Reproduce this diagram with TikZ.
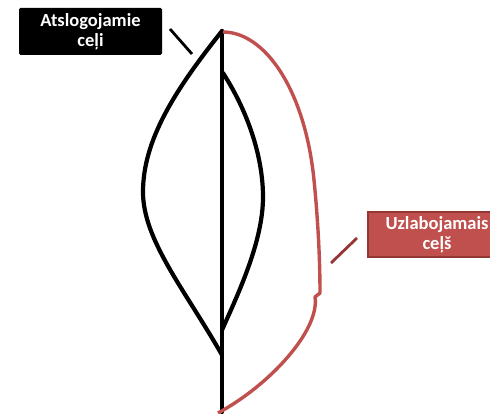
\documentclass[tikz,border=0pt]{standalone}
\usepackage{fontspec}
\setmainfont{Carlito}
\definecolor{accred}{HTML}{C0504D}
\definecolor{darkred}{HTML}{943634}
\begin{document}
\begin{tikzpicture}[x=1pt,y=-1pt,
  blackline/.style={line width=4.2pt, line join=round, line cap=round},
  labelbox/.style={font=\bfseries\fontsize{18.5}{20}\selectfont, text=white, align=center, inner sep=0pt},
  leader/.style={line width=2.8pt}]
\useasboundingbox (0,0) rectangle (490,414);
\clip (0,0) rectangle (490,414);
% main stem
\coordinate (top) at (222,31);
\coordinate (bot) at (222,412);
\coordinate (lm) at (143,192);
\coordinate (lj) at (222,355);
\coordinate (rt) at (223,73);
\coordinate (rm) at (263,197);
\coordinate (rj) at (222,330);
\draw[blackline] (top) -- (bot);
% left lens
\draw[blackline] (top) .. controls (175,90) and (143,140) .. (lm)
  .. controls (143,240) and (185,290) .. (lj);
% right inner lens
\draw[blackline] (rt) .. controls (250,115) and (263,160) .. (rm)
  .. controls (263,240) and (240,290) .. (rj);
% red path
\coordinate (r0) at (223,32);
\coordinate (r1) at (314,180);
\coordinate (r2) at (320,293);
\coordinate (r3) at (315,297);
\coordinate (r4) at (218,413);
\draw[accred, line width=3.4pt, line join=round] (r0) .. controls (265,32) and (305,90) .. (r1)
  .. controls (318,220) and (320,260) .. (r2) -- (r3)
  .. controls (320,330) and (270,385) .. (r4);
% labels
\node[labelbox, fill=black, rounded corners=1.5pt, minimum width=143pt, minimum height=47pt] (lab1) at (90.5,31.5) {Atslogojamie\\ceļi};
\node[labelbox, fill=accred, draw=darkred, line width=1.5pt, minimum width=138pt, minimum height=45pt] (lab2) at (437,234.5) {Uzlabojamais\\ceļš};
% leader lines
\coordinate (l1a) at (170,29);
\coordinate (l1b) at (192,54);
\draw[leader, black] (l1a) -- (l1b);
\coordinate (l2a) at (331,263);
\coordinate (l2b) at (357,238);
\draw[leader, darkred] (l2a) -- (l2b);
\end{tikzpicture}
\end{document}
